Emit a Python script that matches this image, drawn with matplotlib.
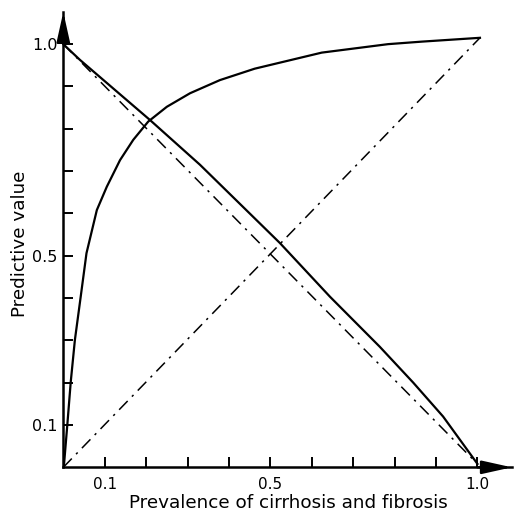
import matplotlib.pyplot as plt

# prevalence (x) and predictive values
ppv_x = [0.0, 0.002, 0.010, 0.018, 0.028, 0.042, 0.056, 0.081, 0.105, 0.137,
         0.169, 0.205, 0.250, 0.306, 0.378, 0.462, 0.624, 0.784, 0.866, 1.006]
ppv_y = [0.0, 0.0095, 0.104, 0.202, 0.301, 0.403, 0.506, 0.608, 0.663, 0.726,
         0.774, 0.817, 0.852, 0.884, 0.915, 0.942, 0.980, 1.0, 1.006, 1.015]

npv_x = [0.0, 0.040, 0.209, 0.330, 0.378, 0.523, 0.644, 0.764, 0.845, 0.917, 1.0]
npv_y = [1.0, 0.963, 0.821, 0.715, 0.669, 0.530, 0.403, 0.285, 0.200, 0.120, 0.008]

# reference diagonals (dash-dot)
diag_up_x = [0.0, 1.006]
diag_up_y = [0.0, 1.015]
diag_down_x = [0.0, 1.0]
diag_down_y = [1.0, 0.008]

tick_vals = [0.1, 0.2, 0.3, 0.4, 0.5, 0.6, 0.7, 0.8, 0.9, 1.0]
tick_text = ["0.1", "", "", "", "0.5", "", "", "", "", "1.0"]

plt.rcParams["font.family"] = ["DejaVu Sans"]

fig = plt.figure(figsize=(5.15, 5.17), dpi=100)
ax = fig.add_axes([0.1229, 0.0961, 0.871, 0.8807])

ax.plot(ppv_x, ppv_y, color="black", lw=1.6, solid_joinstyle="round")
ax.plot(npv_x, npv_y, color="black", lw=1.6, solid_joinstyle="round")
dashdot = (0, (8, 4, 1.5, 4))
ax.plot(diag_up_x, diag_up_y, color="black", lw=1.1, linestyle=dashdot)
ax.plot(diag_down_x, diag_down_y, color="black", lw=1.1, linestyle=dashdot)

ax.set_xlim(0, 1.083)
ax.set_ylim(0, 1.076)
for side in ["top", "right"]:
    ax.spines[side].set_visible(False)
for side in ["left", "bottom"]:
    ax.spines[side].set_linewidth(1.8)

ax.set_xticks(tick_vals)
ax.set_xticklabels(tick_text)
ax.set_yticks(tick_vals)
ax.set_yticklabels(tick_text)
ax.tick_params(axis="both", direction="in", length=7, width=1.4)
ax.tick_params(axis="x", pad=7, labelsize=11)
ax.tick_params(axis="y", pad=4, labelsize=11.5)

# arrow heads on the axes
arrow = dict(arrowstyle="-|>,head_length=0.9,head_width=0.2", color="black",
             lw=1.8, mutation_scale=20, shrinkA=0, shrinkB=0)
ax.annotate("", xy=(0, 1.076), xytext=(0, 1.0), arrowprops=arrow, annotation_clip=False)
ax.annotate("", xy=(1.083, 0), xytext=(1.0, 0), arrowprops=arrow, annotation_clip=False)

fig.text(0.559, 0.018, "Prevalence of cirrhosis and fibrosis", fontsize=13.2,
         ha="center", va="baseline")
fig.text(0.022, 0.528, "Predictive value", fontsize=13.2, rotation=90,
         ha="left", va="center")

fig.savefig("out.png", dpi=100)
